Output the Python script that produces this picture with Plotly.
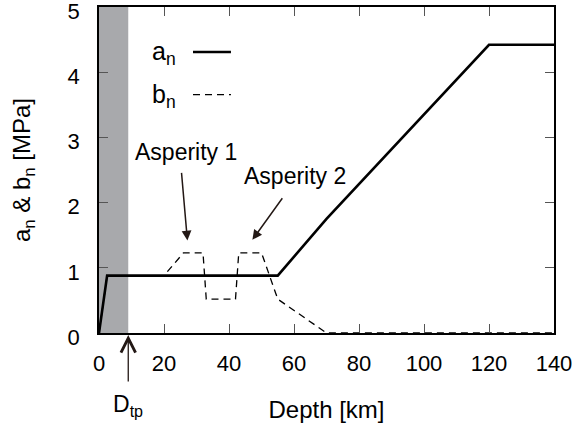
import plotly.graph_objects as go

# Data
a_depth = [0, 2.5, 55, 70, 120, 140]
a_val = [0, 0.88, 0.88, 1.75, 4.42, 4.42]
b_depth = [0, 2.5, 20, 26, 32, 33, 42, 43, 50, 55, 70, 140]
b_val = [0, 0.88, 0.88, 1.23, 1.23, 0.52, 0.52, 1.23, 1.23, 0.52, 0, 0]
d_tp = 9
x_ticks = [0, 20, 40, 60, 80, 100, 120, 140]
y_ticks = [0, 1, 2, 3, 4, 5]

FONT = "Liberation Sans, Arial, sans-serif"
ARROW = "#231815"

fig = go.Figure()
fig.add_trace(go.Scatter(x=b_depth, y=b_val, mode="lines",
                         line=dict(color="black", width=1.3, dash="7px,5px"),
                         showlegend=False, cliponaxis=True))
fig.add_trace(go.Scatter(x=a_depth, y=a_val, mode="lines",
                         line=dict(color="black", width=2.6),
                         showlegend=False, cliponaxis=False))

fig.add_shape(type="rect", xref="x", yref="paper", x0=0, x1=d_tp, y0=0, y1=1,
              fillcolor="#a8a9ac", line_width=0, layer="below")

# legend (custom: text then line sample)
fig.add_annotation(xref="paper", yref="paper", x=0.143, y=0.858, text="a<sub>n</sub>",
                   showarrow=False, font=dict(size=25, family=FONT, color="black"),
                   xanchor="center", yanchor="middle")
fig.add_annotation(xref="paper", yref="paper", x=0.143, y=0.728, text="b<sub>n</sub>",
                   showarrow=False, font=dict(size=25, family=FONT, color="black"),
                   xanchor="center", yanchor="middle")
fig.add_shape(type="line", xref="paper", yref="paper", x0=0.2066, x1=0.290, y0=0.862, y1=0.862,
              line=dict(color="black", width=2.6))
fig.add_shape(type="line", xref="paper", yref="paper", x0=0.2066, x1=0.290, y0=0.731, y1=0.731,
              line=dict(color="black", width=1.3, dash="7px,5px"))

# Asperity labels and arrows
fig.add_annotation(xref="paper", yref="paper", x=0.191, y=0.555, text="Asperity 1",
                   showarrow=False, font=dict(size=23, family=FONT, color="black"),
                   xanchor="center", yanchor="middle")
fig.add_annotation(xref="paper", yref="paper", x=0.431, y=0.482, text="Asperity 2",
                   showarrow=False, font=dict(size=23, family=FONT, color="black"),
                   xanchor="center", yanchor="middle")
fig.add_annotation(x=27.2, y=1.42, xref="x", yref="y", text="", showarrow=True,
                   ax=-6, ay=-69, arrowhead=2, arrowsize=1.3, arrowwidth=1.5, arrowcolor=ARROW)
fig.add_annotation(x=47.2, y=1.43, xref="x", yref="y", text="", showarrow=True,
                   ax=31, ay=-43, arrowhead=2, arrowsize=1.3, arrowwidth=1.5, arrowcolor=ARROW)
# D_tp arrow and label
fig.add_annotation(x=d_tp, y=-0.006, xref="x", yref="paper", text="", showarrow=True,
                   ax=0, ay=48, arrowhead=5, arrowsize=2.2, arrowwidth=1.3, arrowcolor=ARROW)
fig.add_annotation(x=d_tp, y=-0.221, xref="x", yref="paper", text="D<sub>tp</sub>",
                   showarrow=False, font=dict(size=23, family=FONT, color="black"),
                   xanchor="center", yanchor="middle")

axis_common = dict(showline=True, linecolor="black", linewidth=1.8, mirror="allticks",
                   ticks="inside", ticklen=9, tickwidth=1.2, tickcolor="#555",
                   showgrid=False, ticklabeloverflow="allow",
                   automargin=False,
                   tickfont=dict(size=22, family=FONT, color="black"))

fig.update_xaxes(range=[0, 140], tickvals=x_ticks, ticktext=[str(v) for v in x_ticks],
                 title=dict(text="Depth [km]", font=dict(size=24, family=FONT, color="black"),
                            standoff=26),
                 zeroline=False,
                 ticklabelstandoff=10, **axis_common)
fig.update_yaxes(range=[0, 5], tickvals=y_ticks, ticktext=[str(v) for v in y_ticks],
                 title=dict(text="a<sub>n</sub> & b<sub>n</sub> [MPa]",
                            font=dict(size=24, family=FONT, color="black"), standoff=30),
                 zeroline=True, zerolinecolor="black", zerolinewidth=2.2,
                 zerolinelayer="above traces",
                 ticklabelstandoff=13, ticklabelshift=4, **axis_common)

fig.update_layout(width=574, height=436, margin=dict(l=99, r=20, t=7, b=103),
                  plot_bgcolor="white", paper_bgcolor="white", showlegend=False)

fig.write_html("out.html")
